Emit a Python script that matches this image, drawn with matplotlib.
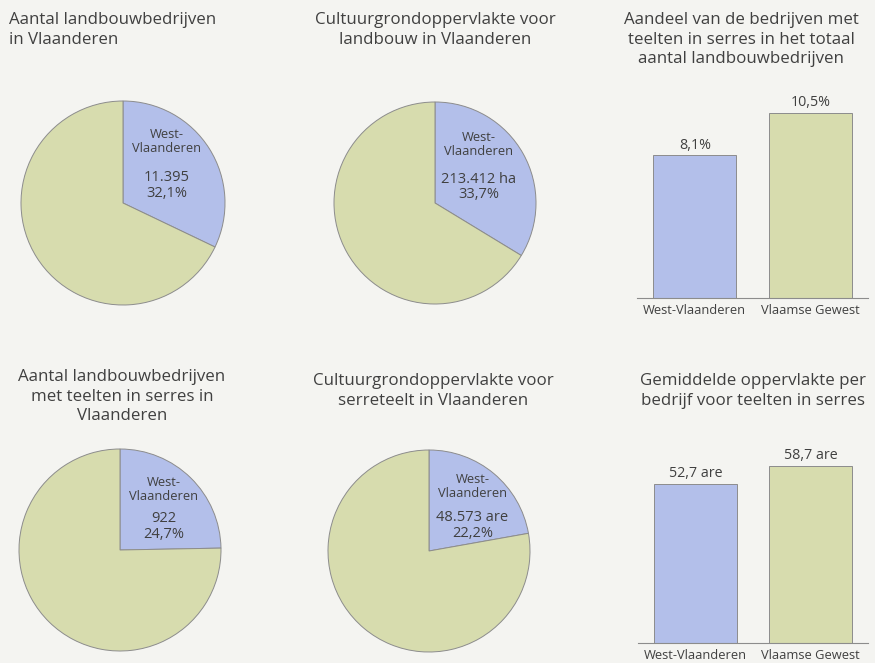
import matplotlib.pyplot as plt

plt.rcParams['font.family'] = ['Open Sans', 'DejaVu Sans']

# data
pie_titles = [
    "Aantal landbouwbedrijven\nin Vlaanderen",
    "Cultuurgrondoppervlakte voor\nlandbouw in Vlaanderen",
    "Aantal landbouwbedrijven\nmet teelten in serres in\nVlaanderen",
    "Cultuurgrondoppervlakte voor\nserreteelt in Vlaanderen",
]
pie_share = [32.1, 33.7, 24.7, 22.2]
pie_amount = ["11.395", "213.412 ha", "922", "48.573 are"]
pie_share_txt = ["32,1%", "33,7%", "24,7%", "22,2%"]

bar_titles = [
    "Aandeel van de bedrijven met\nteelten in serres in het totaal\naantal landbouwbedrijven",
    "Gemiddelde oppervlakte per\nbedrijf voor teelten in serres",
]
bar_regions = ["West-Vlaanderen", "Vlaamse Gewest"]
bar_values = [[8.1, 10.5], [52.7, 58.7]]
bar_value_txt = [["8,1%", "10,5%"], ["52,7 are", "58,7 are"]]

BLUE = "#b3bfea"
GREEN = "#d7dcae"
EDGE = "#8c8c8c"
TXT = "#404040"
BG = "#f4f4f1"

W, H = 875, 663
fig = plt.figure(figsize=(W / 100, H / 100), dpi=100, facecolor=BG)


def px_axes(x0, y0, x1, y1):
    # pixel box (top-left origin) -> figure axes
    return fig.add_axes([x0 / W, 1 - y1 / H, (x1 - x0) / W, (y1 - y0) / H])


# pies: (center x, center y, radius)
pie_pos = [(123, 203, 102), (435, 203, 101), (120, 550, 101), (429, 551, 101)]
lab_y = [(0.60, 0.17), (0.58, 0.16), (0.60, 0.23), (0.64, 0.25)]
for i, (cx, cy, r) in enumerate(pie_pos):
    ax = px_axes(cx - r, cy - r, cx + r, cy + r)
    ax.set_facecolor(BG)
    ax.pie([pie_share[i], 100 - pie_share[i]], colors=[BLUE, GREEN],
           startangle=90, counterclock=False, radius=1,
           wedgeprops=dict(edgecolor=EDGE, linewidth=0.7))
    ax.set_xlim(-1, 1)
    ax.set_ylim(-1, 1)
    ax.set_aspect('equal')
    ax.axis('off')
    ax.text(0.43, lab_y[i][0], "West-\nVlaanderen", ha='center', va='center',
            fontsize=9.3, color=TXT, linespacing=1.1)
    ax.text(0.43, lab_y[i][1], pie_amount[i] + "\n" + pie_share_txt[i],
            ha='center', va='center', fontsize=10.5, color=TXT, linespacing=1.05)

# pie titles
tkw = dict(va='top', fontsize=12.2, color=TXT, linespacing=1.3)
fig.text(9 / W, 1 - 12 / H, pie_titles[0], ha='left', **tkw)
fig.text(435 / W, 1 - 12 / H, pie_titles[1], ha='center', **tkw)
fig.text(122 / W, 1 - 369 / H, pie_titles[2], ha='center', **tkw)
fig.text(433 / W, 1 - 373 / H, pie_titles[3], ha='center', **tkw)

# bar panels: (x0, x1, baseline y, pixel height of max bar)
bar_pos = [(637, 868, 298, 185), (638, 868, 643, 177)]
title_pos = [(741, 12), (753, 373)]
for k, (x0, x1, yb, hmax) in enumerate(bar_pos):
    top = yb - hmax - 40
    ax = px_axes(x0, top, x1, yb)
    ax.set_facecolor(BG)
    vals = bar_values[k]
    ax.bar([0, 1], vals, width=0.72, color=[BLUE, GREEN],
           edgecolor=EDGE, linewidth=0.7)
    ax.set_xlim(-0.5, 1.5)
    ax.set_ylim(0, max(vals) * (yb - top) / hmax)
    for j, v in enumerate(vals):
        ax.annotate(bar_value_txt[k][j], (j, v), xytext=(0, 2),
                    textcoords='offset points', ha='center', va='bottom',
                    fontsize=10.3, color=TXT)
    for s in ['top', 'right', 'left']:
        ax.spines[s].set_visible(False)
    ax.spines['bottom'].set_color(EDGE)
    ax.spines['bottom'].set_linewidth(0.8)
    ax.set_yticks([])
    ax.set_xticks([0, 1])
    ax.set_xticklabels(bar_regions, fontsize=9.3, color=TXT)
    ax.tick_params(axis='x', length=0, pad=4)
    tx, ty = title_pos[k]
    fig.text(tx / W, 1 - ty / H, bar_titles[k], ha='center', **tkw)

fig.savefig("out.png", dpi=100, facecolor=BG)
